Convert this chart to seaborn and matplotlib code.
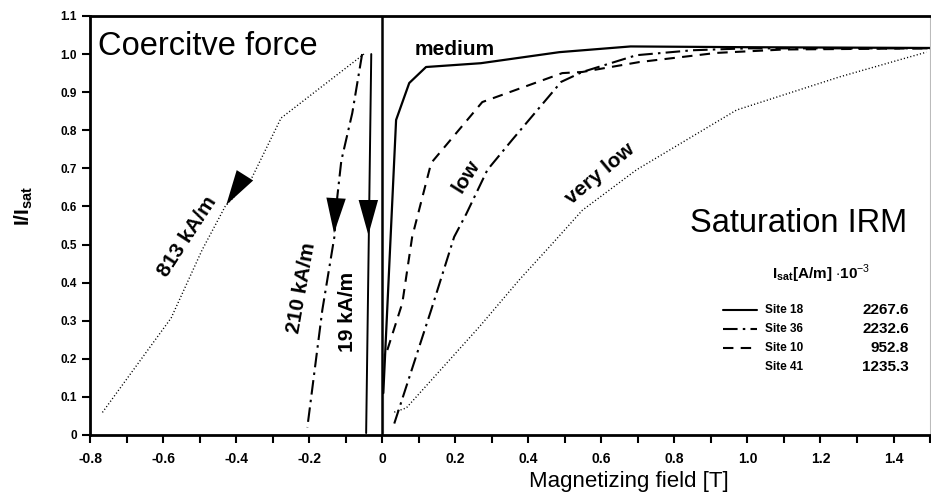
import matplotlib
matplotlib.use('Agg')
import matplotlib.pyplot as plt
import seaborn as sns

# coercive force curves (field decreasing from saturation)
cf_813_x = [-0.05, -0.277, -0.356, -0.43, -0.493, -0.578, -0.767]
cf_813_y = [1.0, 0.832, 0.677, 0.60, 0.486, 0.307, 0.058]
cf_210_x = [-0.055, -0.082, -0.112, -0.123, -0.131, -0.164, -0.205]
cf_210_y = [1.0, 0.845, 0.72, 0.625, 0.52, 0.328, 0.02]
cf_19_x = [-0.03, -0.037, -0.044]
cf_19_y = [1.0, 0.5, 0.005]

# saturation IRM acquisition curves
site18_x = [0.003, 0.003, 0.038, 0.074, 0.12, 0.27, 0.485, 0.68, 1.0, 1.5]
site18_y = [0.005, 0.215, 0.827, 0.924, 0.966, 0.976, 1.005, 1.02, 1.018, 1.016]
site36_x = [0.033, 0.134, 0.197, 0.23, 0.288, 0.356, 0.49, 0.548, 0.696, 0.85, 1.0, 1.5]
site36_y = [0.03, 0.328, 0.52, 0.58, 0.696, 0.775, 0.927, 0.953, 0.997, 1.01, 1.015, 1.015]
site10_x = [0.014, 0.055, 0.082, 0.134, 0.274, 0.493, 0.548, 0.704, 0.915, 1.1, 1.5]
site10_y = [0.223, 0.346, 0.52, 0.714, 0.874, 0.95, 0.953, 0.979, 1.003, 1.012, 1.015]
site41_x = [0.033, 0.066, 0.266, 0.375, 0.457, 0.548, 0.696, 0.778, 0.97, 1.252, 1.49]
site41_y = [0.06, 0.071, 0.284, 0.407, 0.493, 0.59, 0.696, 0.743, 0.853, 0.94, 1.005]

sites = ['Site 18', 'Site 36', 'Site 10', 'Site 41']
isat = ['2267.6', '2232.6', '952.8', '1235.3']

# arrow heads on the coercive force curves: (tail, tip)
arrows = [((-0.375, 0.683), (-0.427, 0.604)),
          ((-0.126, 0.627), (-0.132, 0.530)),
          ((-0.038, 0.614), (-0.038, 0.525))]

xticks = [-0.8, -0.6, -0.4, -0.2, 0, 0.2, 0.4, 0.6, 0.8, 1.0, 1.2, 1.4]
xticklabels = ['-0.8', '-0.6', '-0.4', '-0.2', '0', '0.2', '0.4', '0.6', '0.8', '1.0', '1.2', '1.4']
yticks = [0, 0.1, 0.2, 0.3, 0.4, 0.5, 0.6, 0.7, 0.8, 0.9, 1.0, 1.1]
yticklabels = ['0', '0.1', '0.2', '0.3', '0.4', '0.5', '0.6', '0.7', '0.8', '0.9', '1.0', '1.1']

sns.set_style('ticks')
plt.rcParams['font.family'] = ['Liberation Sans', 'DejaVu Sans']
plt.rcParams['mathtext.fontset'] = 'custom'
plt.rcParams['mathtext.rm'] = 'Liberation Sans'
plt.rcParams['mathtext.bf'] = 'Liberation Sans:bold'
for key in ['text.color', 'axes.labelcolor', 'xtick.color', 'ytick.color']:
    plt.rcParams[key] = 'black'

fig = plt.figure(figsize=(9.31, 4.99), dpi=100)
ax = fig.add_axes([0.0967, 0.1283, 0.9023, 0.8397])

dashdot = (0, (7, 2.5, 1.2, 2.5))
dashed = (0, (5, 3.5))
dotted = (0, (0.8, 1.6))

sns.lineplot(x=cf_813_x, y=cf_813_y, sort=False, ax=ax, color='black', lw=1.0, linestyle=dotted)
sns.lineplot(x=cf_210_x, y=cf_210_y, sort=False, ax=ax, color='black', lw=1.5, linestyle=dashdot)
sns.lineplot(x=cf_19_x, y=cf_19_y, sort=False, ax=ax, color='black', lw=1.4)

sns.lineplot(x=site18_x, y=site18_y, sort=False, ax=ax, color='black', lw=1.6)
sns.lineplot(x=site36_x, y=site36_y, sort=False, ax=ax, color='black', lw=1.5, linestyle=dashdot)
sns.lineplot(x=site10_x, y=site10_y, sort=False, ax=ax, color='black', lw=1.5, linestyle=dashed)
sns.lineplot(x=site41_x, y=site41_y, sort=False, ax=ax, color='black', lw=1.0, linestyle=dotted)

ax.axvline(0, color='black', lw=1.8)

for tail, tip in arrows:
    ax.annotate('', xy=tip, xytext=tail,
                arrowprops=dict(arrowstyle='-|>,head_length=1.8,head_width=0.5',
                                mutation_scale=14, color='black', lw=0,
                                shrinkA=0, shrinkB=0))

ax.set_xlim(-0.8, 1.5)
ax.set_ylim(0, 1.1)
ax.set_xticks(xticks)
ax.set_xticklabels(xticklabels, fontsize=10, fontweight='bold')
ax.set_xticks([-0.7, -0.5, -0.3, -0.1, 0.1, 0.3, 0.5, 0.7, 0.9, 1.1, 1.3, 1.5], minor=True)
ax.set_yticks(yticks)
ax.set_yticklabels(yticklabels, fontsize=8.5, fontweight='bold')
ax.tick_params(axis='both', which='both', direction='out', length=6, width=1.5)
ax.tick_params(axis='x', pad=6)
for side in ['left', 'bottom', 'top']:
    ax.spines[side].set_linewidth(2)
    ax.spines[side].set_color('black')
ax.spines['right'].set_linewidth(0.8)
ax.spines['right'].set_color('#bbbbbb')

ax.set_xlabel('Magnetizing field [T]', fontsize=16)
ax.xaxis.set_label_coords(0.642, -0.085)
ax.set_ylabel(r'$\mathbf{I/I_{sat}}$', fontsize=15)
ax.yaxis.set_label_coords(-0.066, 0.547)

ax.text(0.0095, 0.907, 'Coercitve force', transform=ax.transAxes, fontsize=23.5, va='baseline', ha='left')
ax.text(0.9727, 0.4845, 'Saturation IRM', transform=ax.transAxes, fontsize=23.5, va='baseline', ha='right')

ax.text(0.088, 0.998, 'medium', fontsize=15, fontweight='bold', va='baseline', ha='left')
ax.text(0.230, 0.680, 'low', fontsize=15, fontweight='bold', va='center', ha='center', rotation=58)
ax.text(0.595, 0.685, 'very low', fontsize=15, fontweight='bold', va='center', ha='center', rotation=40)
ax.text(-0.534, 0.522, '813 kA/m', fontsize=15, fontweight='bold', va='center', ha='center', rotation=57)
ax.text(-0.222, 0.386, '210 kA/m', fontsize=15, fontweight='bold', va='center', ha='center', rotation=80)
ax.text(-0.096, 0.323, '19 kA/m', fontsize=15, fontweight='bold', va='center', ha='center', rotation=90)

# hand-made legend
ax.text(0.870, 0.384, r'$\mathbf{I_{sat}}$[A/m] $\cdot$10$^{-3}$', transform=ax.transAxes,
        fontsize=11, va='center', ha='center', fontweight='bold')
row_y = [0.298, 0.253, 0.208, 0.162]
row_styles = ['-', dashdot, dashed, None]
for yy, name, val, ls in zip(row_y, sites, isat, row_styles):
    if ls is not None:
        ax.plot([0.753, 0.794], [yy, yy], transform=ax.transAxes, color='black', lw=1.5, linestyle=ls)
    ax.text(0.804, yy, name, transform=ax.transAxes, fontsize=8.5, fontweight='bold', va='center', ha='left')
    ax.text(0.975, yy, val, transform=ax.transAxes, fontsize=11, fontweight='bold', va='center', ha='right')

fig.savefig('out.png', dpi=100)
